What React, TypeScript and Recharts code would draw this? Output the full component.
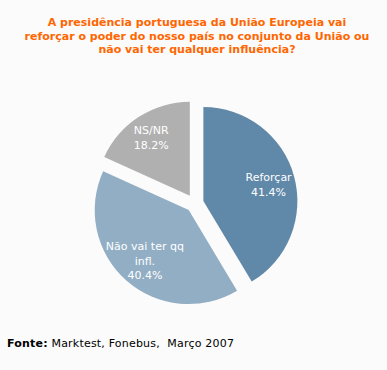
import React from "react";
import { PieChart, Pie, Cell, Sector } from "recharts";

const titleLines = [
  "A presidência portuguesa da União Europeia vai",
  "reforçar o poder do nosso país no conjunto da União ou",
  "não vai ter qualquer influência?",
];
const categories = ["Reforçar", "Não vai ter qq infl.", "NS/NR"];
const labelLines = [["Reforçar"], ["Não vai ter qq", "infl."], ["NS/NR"]];
const values = [41.4, 40.4, 18.2];
const colors = ["#6088a8", "#92aec4", "#b0b0b0"];
const sourceBold = "Fonte:";
const sourceText = " Marktest, Fonebus,\u00a0 Março 2007";

const data = categories.map((name, i) => ({ name, value: values[i], idx: i }));

const RAD = Math.PI / 180;
const EXPLODE = 9;

const ExplodedSector = (props: any) => {
  const { cx, cy, midAngle } = props;
  const dx = EXPLODE * Math.cos(-midAngle * RAD);
  const dy = EXPLODE * Math.sin(-midAngle * RAD);
  return <Sector {...props} cx={cx + dx} cy={cy + dy} stroke="none" />;
};

const labelRadiusFactor = [0.72, 0.7, 0.76];

const renderLabel = (props: any) => {
  const { cx, cy, midAngle, outerRadius, index, value } = props;
  const cos = Math.cos(-midAngle * RAD);
  const sin = Math.sin(-midAngle * RAD);
  const r = outerRadius * labelRadiusFactor[index] + EXPLODE;
  const x = cx + r * cos;
  const y = cy + r * sin;
  const lines = [...labelLines[index], `${value.toFixed(1)}%`];
  const lh = 14.5;
  const startY = y - ((lines.length - 1) * lh) / 2 + 1.5;
  return (
    <text
      x={x}
      y={startY}
      fill="#ffffff"
      textAnchor="middle"
      dominantBaseline="central"
      fontFamily="DejaVu Sans, Verdana, sans-serif"
      fontSize={11}
    >
      {lines.map((l, i) => (
        <tspan key={i} x={x} dy={i === 0 ? 0 : lh}>
          {l}
        </tspan>
      ))}
    </text>
  );
};

export default function App() {
  return (
    <div
      style={{
        position: "absolute",
        left: 0,
        top: 0,
        width: 387,
        height: 370,
        background: "#fbfbfb",
        overflow: "hidden",
      }}
    >
      <div
        style={{
          position: "absolute",
          left: 0,
          top: 16,
          width: 394,
          textAlign: "center",
          color: "#ff6600",
          fontFamily: "DejaVu Sans, Verdana, sans-serif",
          fontWeight: "bold",
          fontSize: 11,
          lineHeight: "13.5px",
        }}
      >
        {titleLines.map((t, i) => (
          <div key={i}>{t}</div>
        ))}
      </div>
      <div style={{ position: "absolute", left: 0, top: 0 }}>
        <PieChart width={387} height={370} margin={{ top: 0, right: 0, bottom: 0, left: 0 }}>
          <Pie
            data={data}
            dataKey="value"
            nameKey="name"
            cx={194.7}
            cy={203.4}
            outerRadius={94}
            innerRadius={0}
            startAngle={90}
            endAngle={-270}
            shape={ExplodedSector}
            label={renderLabel}
            labelLine={false}
            isAnimationActive={false}
            stroke="none"
          >
            {data.map((d, i) => (
              <Cell key={i} fill={colors[i]} />
            ))}
          </Pie>
        </PieChart>
      </div>
      <div
        style={{
          position: "absolute",
          left: 7,
          top: 337,
          color: "#000",
          fontFamily: "DejaVu Sans, Verdana, sans-serif",
          fontSize: 11,
          letterSpacing: 0.2,
          whiteSpace: "pre",
        }}
      >
        <b>{sourceBold}</b>
        {sourceText}
      </div>
    </div>
  );
}
